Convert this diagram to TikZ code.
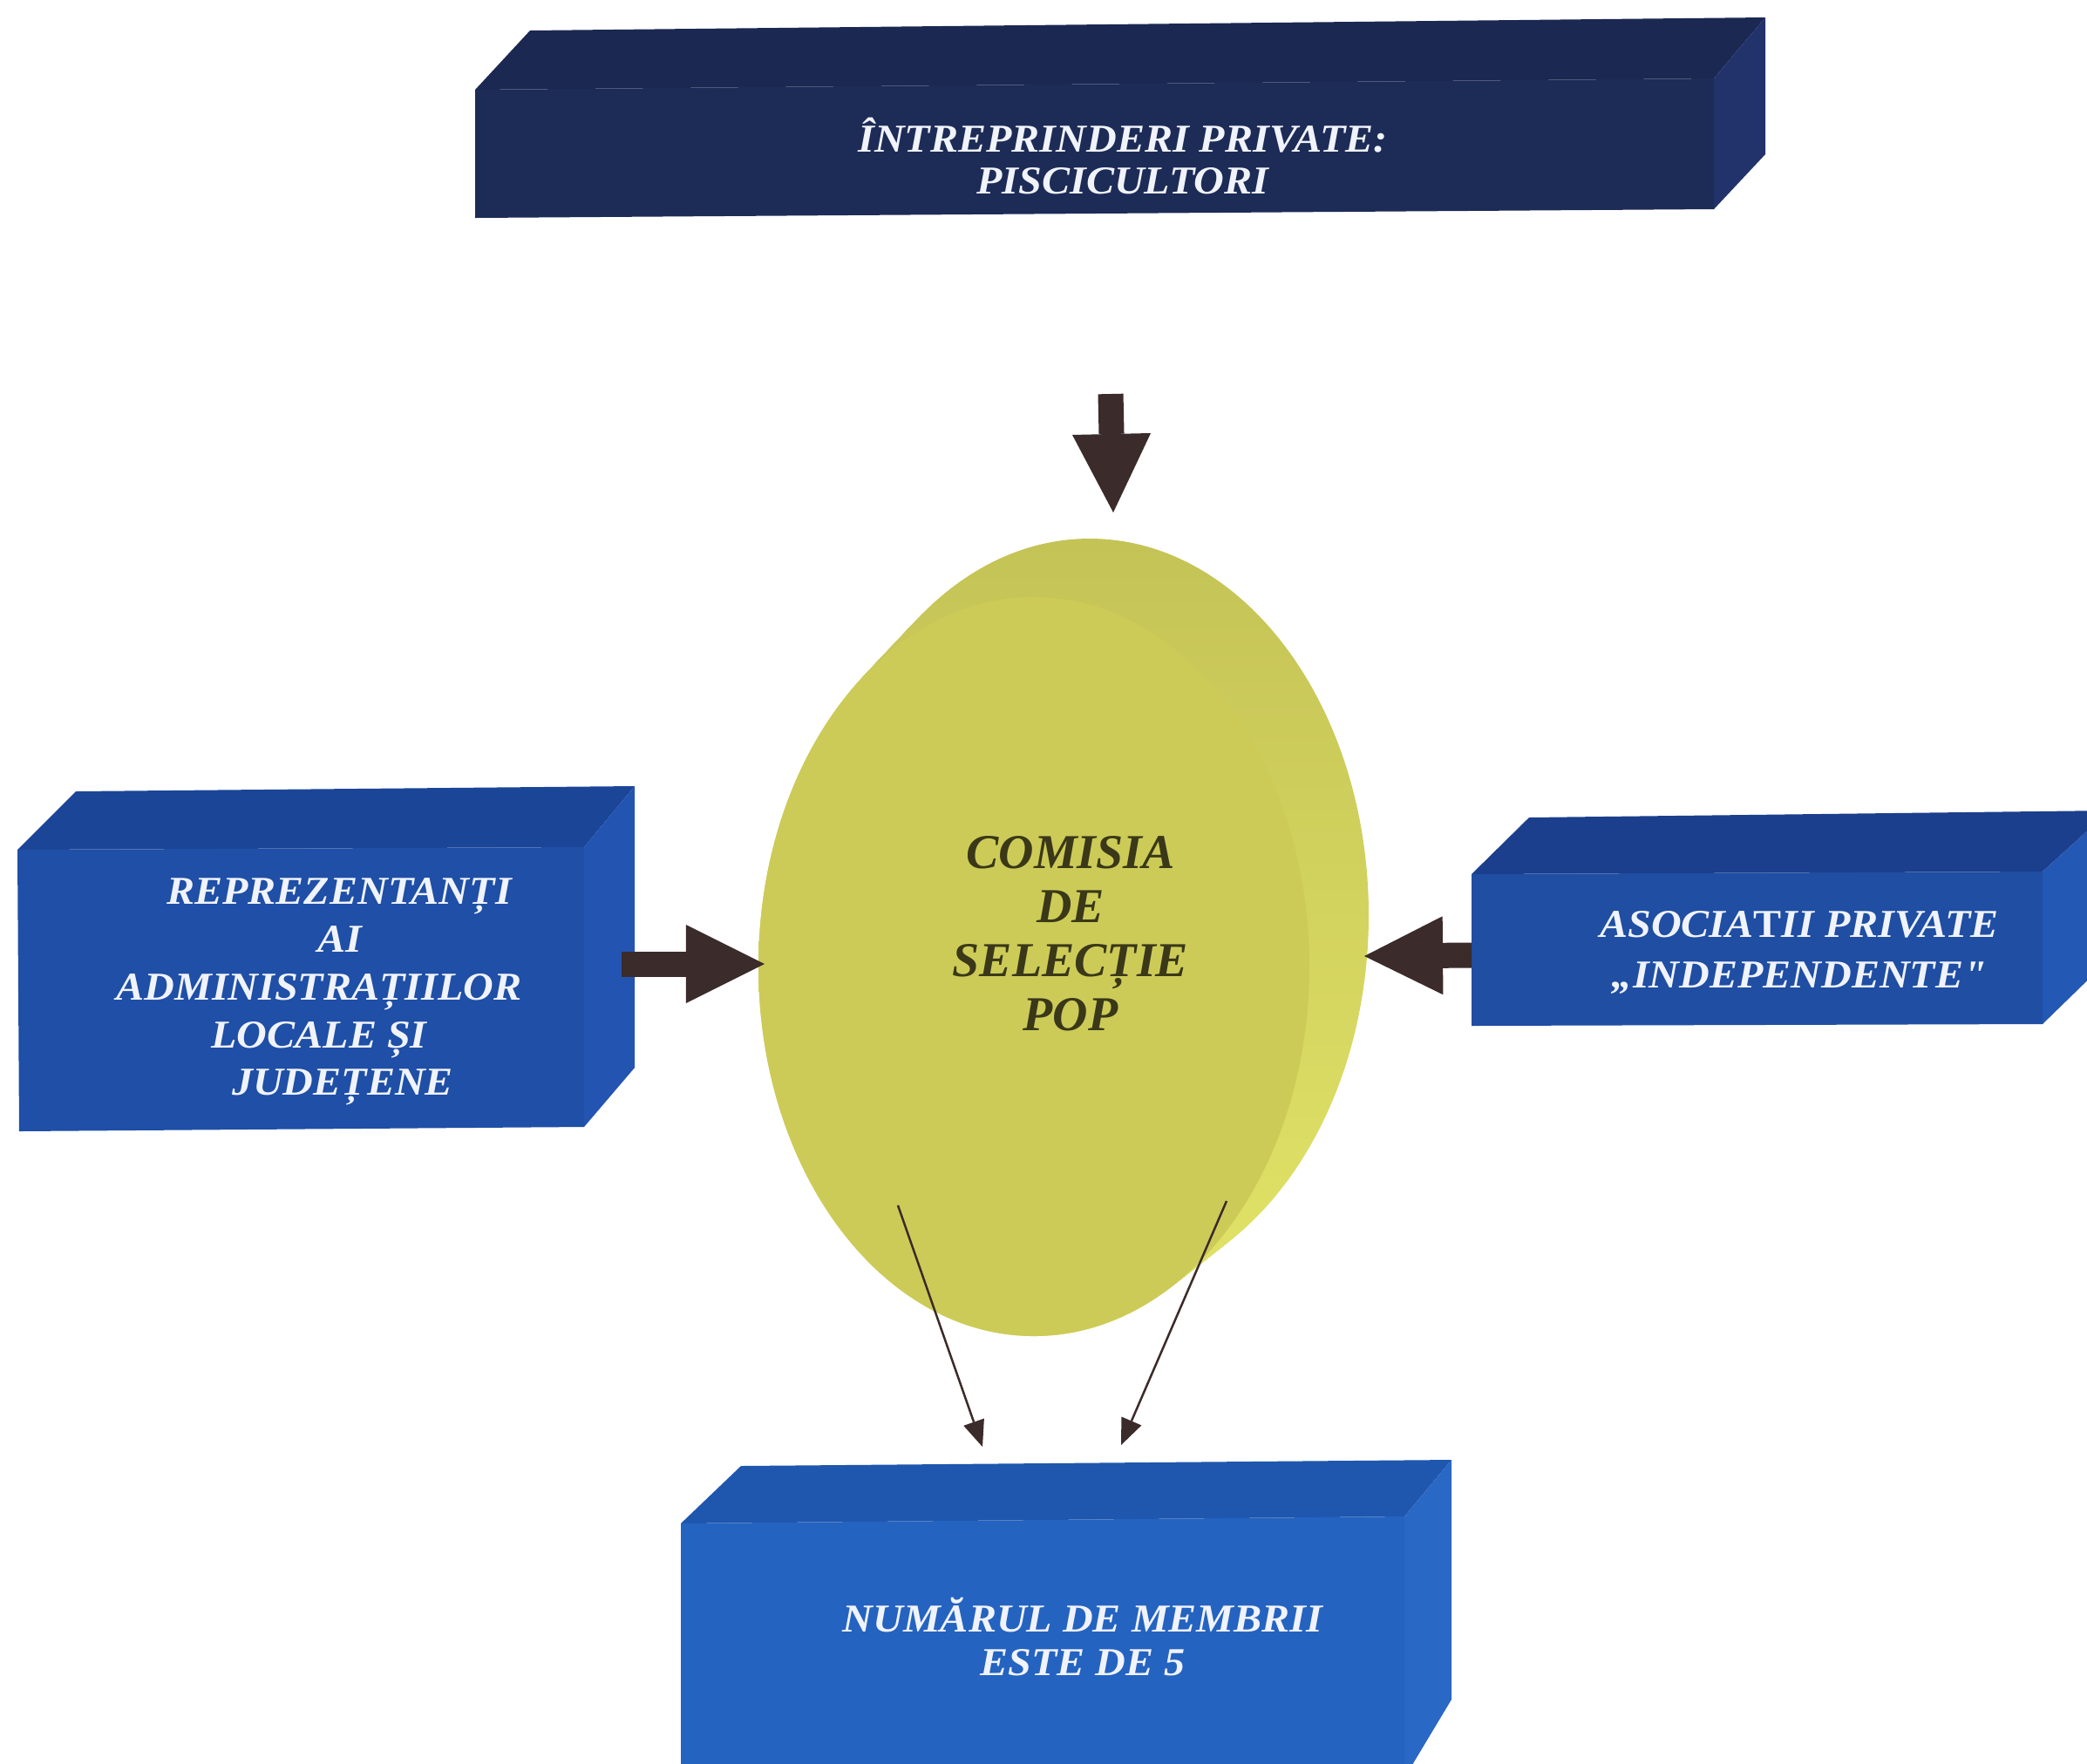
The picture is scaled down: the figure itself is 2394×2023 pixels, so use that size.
\documentclass[tikz,border=0pt]{standalone}
\usepackage{fontspec}
\setmainfont{Liberation Serif}
\newfontfamily\boxfont{Liberation Serif}[FakeStretch=1.06]
\usetikzlibrary{arrows.meta}
\definecolor{navyF}{HTML}{1D2B57}
\definecolor{navyT}{HTML}{1B2852}
\definecolor{navyR}{HTML}{22336C}
\definecolor{blueLF}{HTML}{1F4FA6}
\definecolor{blueLT}{HTML}{1B4698}
\definecolor{blueLR}{HTML}{2354B2}
\definecolor{blueRF}{HTML}{1F4EA3}
\definecolor{blueRT}{HTML}{1B3F8C}
\definecolor{blueRR}{HTML}{2458B5}
\definecolor{blueBF}{HTML}{2563C0}
\definecolor{blueBT}{HTML}{1F57AE}
\definecolor{blueBR}{HTML}{2A68C6}
\definecolor{discF}{HTML}{CCCB58}
\definecolor{discTop}{HTML}{C4C356}
\definecolor{discMid}{HTML}{DADC62}
\definecolor{discBot}{HTML}{E1E367}
\definecolor{disctxt}{HTML}{3A3818}
\definecolor{arrowc}{HTML}{3B2B2A}
\definecolor{wtxt}{HTML}{F0F3FA}
\begin{document}
\begin{tikzpicture}[x=0.01cm,y=-0.01cm,
  wtext/.style={text=wtxt, align=center, inner sep=0pt},
  disctext/.style={text=disctxt, align=center, inner sep=0pt,
    font={\bfseries\itshape\fontsize{15.9pt}{17.6pt}\selectfont}},
  bigarrow/.style={draw=arrowc, line width=0.29cm,
    -{Triangle[length=0.9cm,width=0.9cm,line width=0pt]}},
  thinarrow/.style={draw=arrowc, line width=0.025cm,
    -{Triangle[length=0.30cm,width=0.25cm,line width=0pt]}}]
\useasboundingbox (0,0) rectangle (2394,2023);
\clip (0,0) rectangle (2394,2023);
\fill[white] (0,0) rectangle (2394,2023);

% top box
\fill[navyT] (545,103) -- (608,35) -- (2025,20) -- (1966,90) -- cycle;
\fill[navyR] (1966,90) -- (2025,20) -- (2025,177) -- (1966,240) -- cycle;
\fill[navyF] (545,103) -- (1966,90) -- (1966,240) -- (545,250) -- cycle;
\node[wtext, font={\boxfont\bfseries\itshape\fontsize{12.9pt}{13.6pt}\selectfont}] (top) at (1288,179) {ÎNTREPRINDERI PRIVATE:\\PISCICULTORI};

% left box
\fill[blueLT] (20,975) -- (87,908) -- (728,902) -- (670,972) -- cycle;
\fill[blueLR] (670,972) -- (728,902) -- (728,1225) -- (670,1293) -- cycle;
\fill[blueLF] (20,975) -- (670,972) -- (670,1293) -- (22,1298) -- cycle;
\node[wtext, font={\boxfont\bfseries\itshape\fontsize{12.9pt}{15.6pt}\selectfont}] (left) at (366,1138)
  {\hspace*{0.46cm}REPREZENTANȚI\\\hspace*{0.48cm}AI\\ADMINISTRAȚIILOR\hspace*{0.46cm}\\LOCALE ȘI\hspace*{0.48cm}\\\hspace*{0.54cm}JUDEȚENE};

% right box
\fill[blueRT] (1688,1003) -- (1754,938) -- (2420,930) -- (2343,1000) -- cycle;
\fill[blueRR] (2343,1000) -- (2420,930) -- (2420,1100) -- (2343,1175) -- cycle;
\fill[blueRF] (1688,1003) -- (2343,1000) -- (2343,1175) -- (1688,1177) -- cycle;
\node[wtext, font={\boxfont\bfseries\itshape\fontsize{12.9pt}{16.6pt}\selectfont}] (right) at (2064,1093)
  {ASOCIA{\upshape T}II PRIVATE\\„INDEPENDENTE"};

% bottom box
\fill[blueBT] (781,1748) -- (850,1682) -- (1665,1675) -- (1611,1740) -- cycle;
\fill[blueBR] (1611,1740) -- (1665,1675) -- (1665,1950) -- (1611,2040) -- cycle;
\fill[blueBF] (781,1748) -- (1611,1740) -- (1611,2040) -- (781,2040) -- cycle;
\node[wtext, font={\boxfont\bfseries\itshape\fontsize{12.9pt}{14.2pt}\selectfont}] (bottom) at (1242,1878)
  {NUMĂRUL DE MEMBRII\\ESTE DE 5};

% disc (extruded ellipse)
\foreach \t in {0,0.025,...,1.001}{
  \shade[top color=discTop, middle color=discMid, bottom color=discBot]
    ({1186+64*\t},{1109-59*\t}) ellipse [x radius={316+4*\t}, y radius={424+8*\t}];
}
\fill[discF] (1186,1109) ellipse [x radius=316, y radius=424];
\node[disctext] (disc) at (1228,1071) {COMISIA\\DE\\SELECȚIE\\POP};

% big arrows
\coordinate (ta0) at (1274,452);
\coordinate (ta1) at (1277,588);
\coordinate (la0) at (713,1106);
\coordinate (la1) at (877,1106);
\coordinate (ra0) at (1688,1096);
\coordinate (ra1) at (1565,1097);
\draw[bigarrow] (ta0) -- (ta1);
\draw[bigarrow] (la0) -- (la1);
\draw[bigarrow] (ra0) -- (ra1);

% thin arrows
\coordinate (s1) at (1030,1383);
\coordinate (e1) at (1127,1660);
\coordinate (s2) at (1407,1378);
\coordinate (e2) at (1286,1658);
\draw[thinarrow] (s1) -- (e1);
\draw[thinarrow] (s2) -- (e2);
\end{tikzpicture}
\end{document}
